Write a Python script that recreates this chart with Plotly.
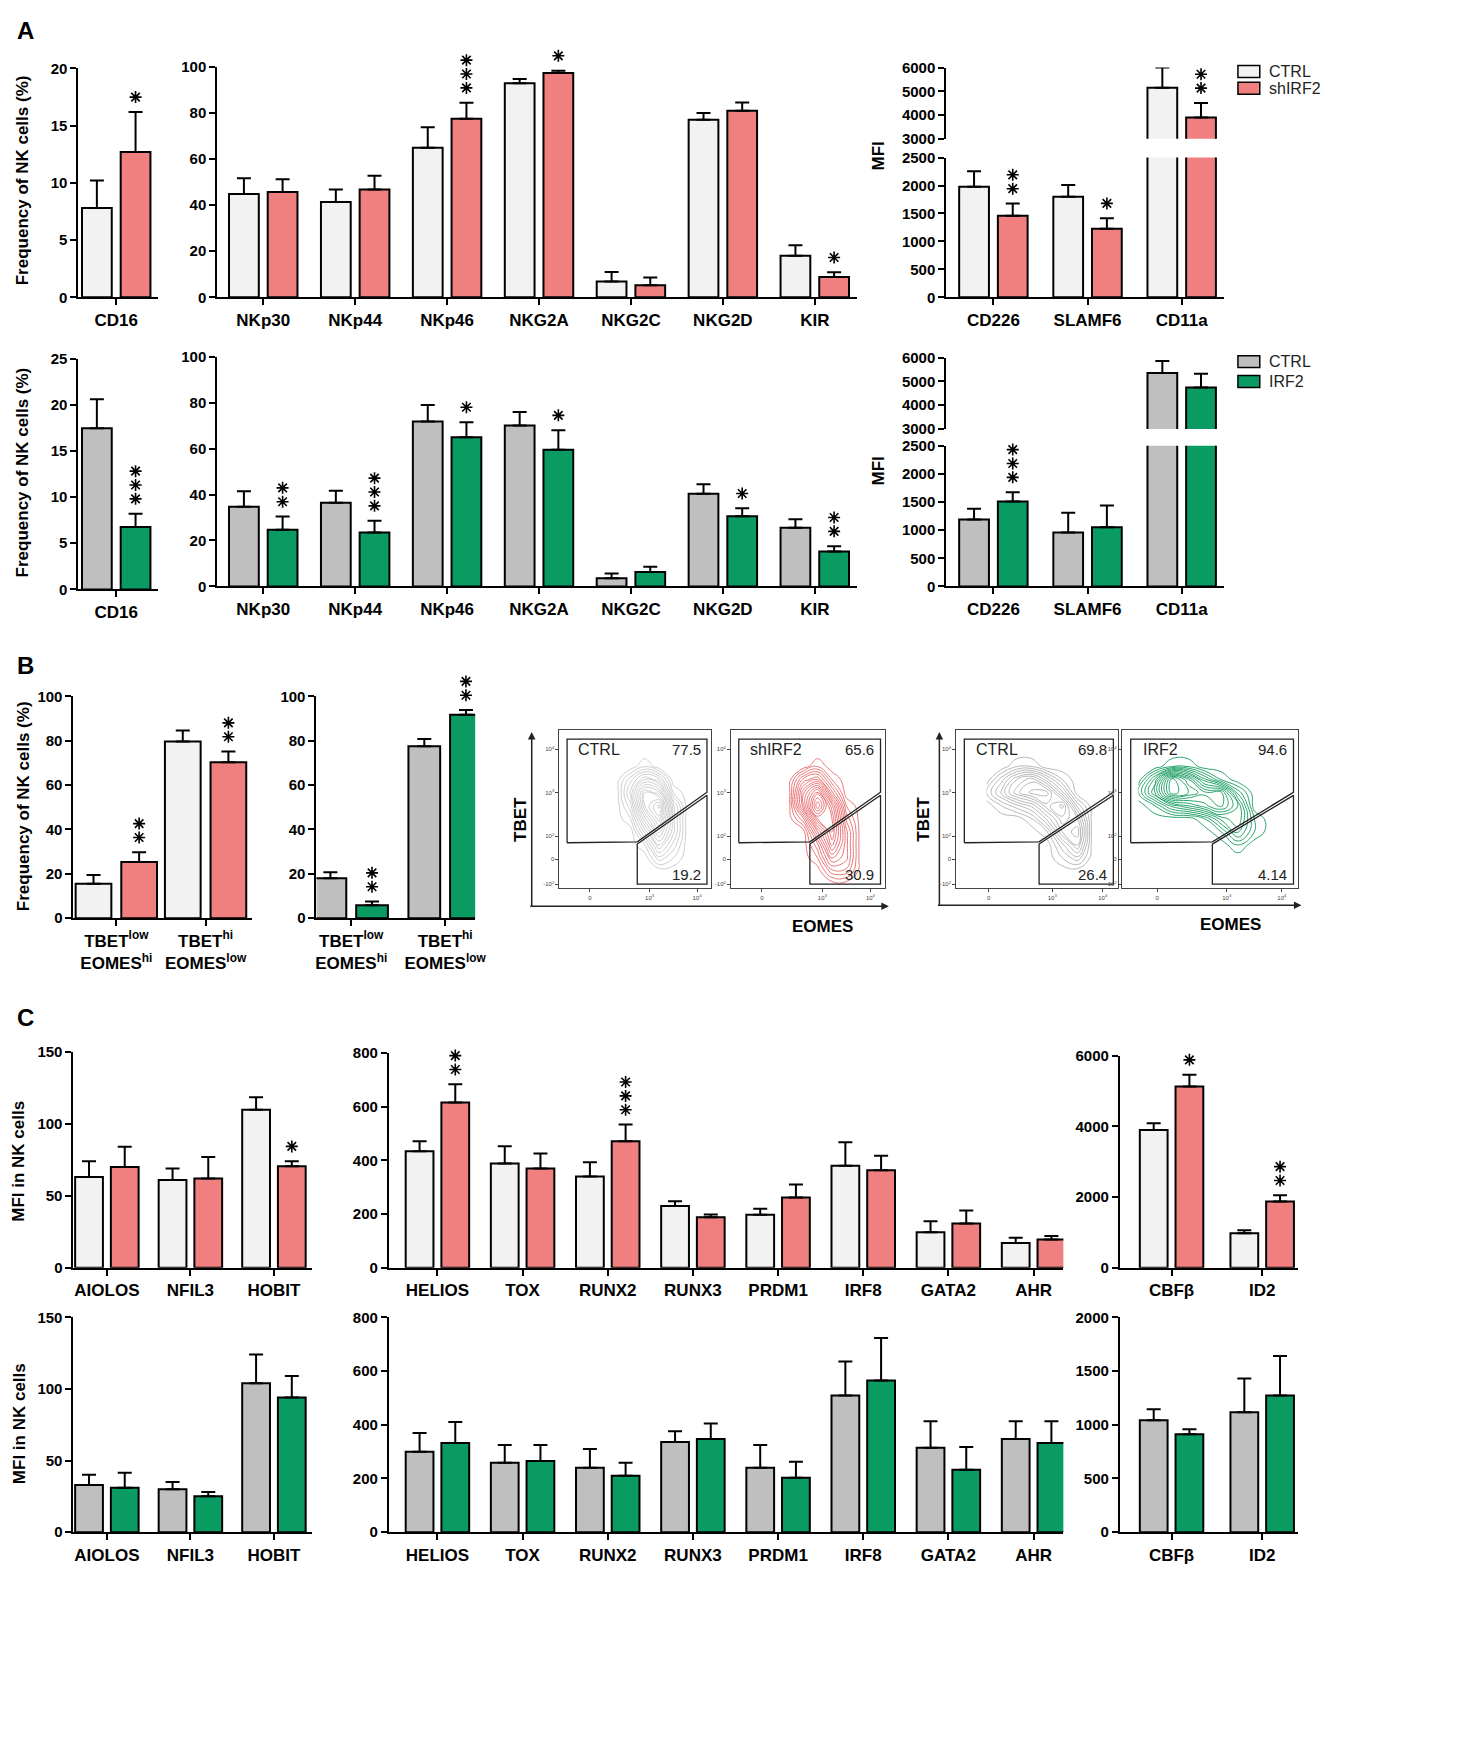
import plotly.graph_objects as go

W, H = 1477, 1755

# ---------------- DATA ----------------
CTRL_LIGHT = "#F2F2F2"
SH_COLOR = "#F08080"
CTRL_GREY = "#BFBFBF"
IRF2_COLOR = "#0A9B63"

# Panel A, shIRF2 row
a1_cd16_cats = ["CD16"]
a1_cd16_ctrl = [7.8]
a1_cd16_ctrl_top = [10.2]
a1_cd16_sh = [12.7]
a1_cd16_sh_top = [16.2]
a1_cd16_stars = ["*"]

rec_cats = ["NKp30", "NKp44", "NKp46", "NKG2A", "NKG2C", "NKG2D", "KIR"]
a1_rec_ctrl = [44.8, 41.3, 64.8, 92.7, 6.8, 76.9, 18.0]
a1_rec_ctrl_top = [51.6, 46.7, 73.7, 94.6, 10.9, 79.9, 22.5]
a1_rec_sh = [45.6, 46.7, 77.4, 97.2, 5.2, 80.8, 8.8]
a1_rec_sh_top = [51.1, 52.7, 84.3, 98.2, 8.6, 84.4, 10.8]
a1_rec_stars = ["", "", "***", "*", "", "", "*"]

mfi_cats = ["CD226", "SLAMF6", "CD11a"]
a1_mfi_ctrl = [1980, 1800, 5150]
a1_mfi_ctrl_top = [2256, 2012, 6000]
a1_mfi_sh = [1459, 1228, 3896]
a1_mfi_sh_top = [1678, 1414, 4508]
a1_mfi_stars = ["**", "*", "**"]

# Panel A, IRF2 row
a2_cd16_ctrl = [17.45]
a2_cd16_ctrl_top = [20.6]
a2_cd16_irf = [6.76]
a2_cd16_irf_top = [8.2]
a2_cd16_stars = ["***"]

a2_rec_ctrl = [34.7, 36.4, 71.8, 70.0, 3.6, 40.3, 25.5]
a2_rec_ctrl_top = [41.4, 41.7, 79.0, 75.9, 5.6, 44.5, 29.2]
a2_rec_irf = [24.7, 23.5, 64.9, 59.5, 6.3, 30.5, 15.2]
a2_rec_irf_top = [30.4, 28.6, 71.5, 68.0, 8.6, 34.0, 17.5]
a2_rec_stars = ["**", "***", "*", "*", "", "*", "**"]

a2_mfi_ctrl = [1192, 960, 5355]
a2_mfi_ctrl_top = [1379, 1308, 5865]
a2_mfi_irf = [1508, 1050, 4740]
a2_mfi_irf_top = [1675, 1437, 5325]
a2_mfi_stars = ["***", "", ""]

# Panel B
b_cats = ["TBET<sup>low</sup><br>EOMES<sup>hi</sup>", "TBET<sup>hi</sup><br>EOMES<sup>low</sup>"]
b1_ctrl = [15.5, 79.7]
b1_ctrl_top = [19.5, 84.6]
b1_sh = [25.3, 70.3]
b1_sh_top = [29.7, 75.1]
b1_stars = ["**", "**"]
b2_ctrl = [18.0, 77.5]
b2_ctrl_top = [20.7, 80.8]
b2_irf = [5.8, 91.7]
b2_irf_top = [7.5, 93.8]
b2_stars = ["**", "**"]

# Flow cytometry plots (gate percentages and approximate density grids)
flow_labels = ["CTRL", "shIRF2", "CTRL", "IRF2"]
flow_hi = ["77.5", "65.6", "69.8", "94.6"]
flow_lo = ["19.2", "30.9", "26.4", "4.14"]
gate_hi_x = [1.26, 1.26, 4.21, 4.21, 2.74, 1.26]
gate_hi_y = [1.85, 4.23, 4.23, 3.01, 1.87, 1.85]
gate_lo_x = [2.74, 2.74, 4.21, 4.21, 2.74]
gate_lo_y = [1.82, 0.90, 0.90, 2.94, 1.82]
flow_gy = [0.9, 1.2, 1.5, 1.8, 2.1, 2.4, 2.7, 3.0, 3.3, 3.6, 3.9]
flow1_gx = [2.0, 2.3, 2.6, 2.9, 3.2, 3.5, 3.8, 4.1]
flow1_z = [
    [0, 0, 0, 0, 0, 0, 0, 0],
    [0, 0, 0, 0, 0, 0, 0, 0],
    [0, 0, 0, 0, 2, 1, 0, 0],
    [0, 0, 0, 1, 4, 2, 0, 0],
    [0, 0, 0, 3, 6, 3, 0, 0],
    [0, 0, 1, 5, 8, 3, 0, 0],
    [0, 0, 2, 7, 9, 3, 0, 0],
    [0, 0, 3, 7, 6, 1, 0, 0],
    [0, 0, 2, 4, 3, 0, 0, 0],
    [0, 0, 0, 1, 0, 0, 0, 0],
    [0, 0, 0, 0, 0, 0, 0, 0],
]
flow2_gx = [2.0, 2.3, 2.6, 2.9, 3.2, 3.5, 3.8, 4.1]
flow2_z = [
    [0, 0, 0, 0, 0, 0, 0, 0],
    [0, 0, 0, 0, 2, 2, 0, 0],
    [0, 0, 0, 1, 4, 3, 0, 0],
    [0, 0, 0, 2, 6, 3, 0, 0],
    [0, 0, 0, 4, 7, 3, 0, 0],
    [0, 0, 2, 7, 7, 2, 0, 0],
    [0, 0, 5, 10, 6, 1, 0, 0],
    [0, 0, 5, 8, 3, 0, 0, 0],
    [0, 0, 3, 4, 1, 0, 0, 0],
    [0, 0, 0, 1, 0, 0, 0, 0],
    [0, 0, 0, 0, 0, 0, 0, 0],
]
flow3_gx = [1.7, 2.0, 2.3, 2.6, 2.9, 3.2, 3.5, 3.8, 4.1]
flow3_z = [
    [0, 0, 0, 0, 0, 0, 0, 0, 0],
    [0, 0, 0, 0, 0, 0, 0, 0, 0],
    [0, 0, 0, 0, 0, 1, 2, 0, 0],
    [0, 0, 0, 0, 0, 2, 4, 0, 0],
    [0, 0, 0, 0, 1, 4, 5, 0, 0],
    [0, 0, 0, 1, 3, 5, 4, 0, 0],
    [0, 1, 2, 3, 5, 6, 2, 0, 0],
    [1, 3, 5, 6, 6, 3, 0, 0, 0],
    [0, 2, 4, 5, 3, 1, 0, 0, 0],
    [0, 0, 1, 1, 0, 0, 0, 0, 0],
    [0, 0, 0, 0, 0, 0, 0, 0, 0],
]
flow4_gx = [1.4, 1.7, 2.0, 2.3, 2.6, 2.9, 3.2, 3.5, 3.8, 4.1]
flow4_z = [
    [0, 0, 0, 0, 0, 0, 0, 0, 0, 0],
    [0, 0, 0, 0, 0, 0, 0, 0, 0, 0],
    [0, 0, 0, 0, 0, 0, 0, 0, 0, 0],
    [0, 0, 0, 0, 0, 0, 1, 0, 0, 0],
    [0, 0, 0, 0, 0, 1, 3, 1, 0, 0],
    [0, 0, 0, 0, 1, 3, 4, 1, 0, 0],
    [0, 1, 3, 4, 5, 6, 4, 0, 0, 0],
    [1, 4, 8, 7, 6, 6, 2, 0, 0, 0],
    [0, 3, 8, 6, 3, 1, 0, 0, 0, 0],
    [0, 0, 1, 1, 0, 0, 0, 0, 0, 0],
    [0, 0, 0, 0, 0, 0, 0, 0, 0, 0],
]

# Panel C
c1_cats = ["AIOLOS", "NFIL3", "HOBIT"]
c2_cats = ["HELIOS", "TOX", "RUNX2", "RUNX3", "PRDM1", "IRF8", "GATA2", "AHR"]
c3_cats = ["CBFβ", "ID2"]
c1r1_ctrl = [63, 61, 109.8]
c1r1_ctrl_top = [74, 69, 118.4]
c1r1_sh = [70, 62, 70.5]
c1r1_sh_top = [84, 77, 74]
c1r1_stars = ["", "", "*"]
c2r1_ctrl = [434, 388, 340, 230, 197, 380, 132, 92]
c2r1_ctrl_top = [471, 452, 393, 248, 220, 467, 173, 112]
c2r1_sh = [615, 370, 471, 188, 262, 363, 165, 105]
c2r1_sh_top = [683, 425, 533, 198, 310, 417, 213, 118]
c2r1_stars = ["**", "", "***", "", "", "", "", ""]
c3r1_ctrl = [3897, 980]
c3r1_ctrl_top = [4090, 1065]
c3r1_sh = [5130, 1878]
c3r1_sh_top = [5466, 2050]
c3r1_stars = ["*", "**"]

c1r2_ctrl = [33, 30, 104]
c1r2_ctrl_top = [40, 35, 124]
c1r2_irf = [31, 25, 94]
c1r2_irf_top = [41.5, 28, 109]
c2r2_ctrl = [299, 258, 240, 336, 240, 509, 314, 347]
c2r2_ctrl_top = [369, 325, 310, 376, 325, 635, 413, 413]
c2r2_irf = [332, 265, 210, 347, 203, 565, 232, 332]
c2r2_irf_top = [410, 325, 258, 405, 262, 723, 317, 413]
c3r2_ctrl = [1041, 1115]
c3r2_ctrl_top = [1143, 1430]
c3r2_irf = [912, 1272]
c3r2_irf_top = [959, 1640]

# ---------------- FIGURE ----------------
FONT = "Liberation Sans, Arial, sans-serif"
fig = go.Figure()
layout = {}
annotations = []
shapes = []
axn = [0]


def dom_x(x0, x1):
    return [x0 / W, x1 / W]


def dom_y(y0, y1):
    return [max(0.0, 1 - y1 / H), min(1.0, 1 - y0 / H)]


def new_axes():
    axn[0] += 1
    n = axn[0]
    s = "" if n == 1 else str(n)
    return "x" + s, "y" + s, "xaxis" + s, "yaxis" + s


def bar_panel(box, cats, ctrl, ctrl_top, trt, trt_top, stars, yr, dtick, xr,
              colors, names, bw_px=30, gap_px=9, upper=None, tickfs=15, catfs=17):
    x0, x1, y0, y1 = box
    idx = list(range(len(cats)))
    ppu = (x1 - x0) / (xr[1] - xr[0])
    bw = bw_px / ppu
    g = gap_px / ppu
    panels = [(y0, y1, yr, dtick, True)]
    if upper is not None:
        panels.append(upper)
    for (py0, py1, pyr, pdt, is_lower) in panels:
        xa, ya, xk, yk = new_axes()
        layout[xk] = dict(domain=dom_x(x0, x1), anchor=ya, range=xr,
                          tickvals=idx, ticktext=cats,
                          showline=is_lower, linewidth=2, linecolor="black",
                          ticks="outside" if is_lower else "", ticklen=6, tickwidth=2,
                          tickcolor="black", showgrid=False, zeroline=False,
                          showticklabels=is_lower,
                          tickfont=dict(family=FONT, size=catfs, color="black", weight="bold"),
                          fixedrange=True)
        layout[yk] = dict(domain=dom_y(py0, py1), anchor=xa, range=pyr, dtick=pdt,
                          showline=True, linewidth=2, linecolor="black",
                          ticks="outside", ticklen=6, tickwidth=2, tickcolor="black",
                          showgrid=False, zeroline=False,
                          tickfont=dict(family=FONT, size=tickfs, color="black", weight="bold"),
                          fixedrange=True)
        for k, (vals, tops, col, nm) in enumerate([(ctrl, ctrl_top, colors[0], names[0]),
                                                    (trt, trt_top, colors[1], names[1])]):
            fig.add_trace(go.Bar(
                x=idx, y=vals, width=bw, offset=(-bw - g / 2) if k == 0 else g / 2,
                xaxis=xa, yaxis=ya, name=nm, showlegend=False,
                marker=dict(color=col, line=dict(color="black", width=2)),
                error_y=dict(type="data", symmetric=False,
                             array=[t - v for t, v in zip(tops, vals)],
                             arrayminus=[0] * len(vals),
                             color="black", thickness=2, width=7),
            ))
        # significance asterisks, stacked above the treatment bar, on an invisible
        # overlay axis that shares the panel scale but extends higher
        ppy = (py1 - py0) / (pyr[1] - pyr[0])
        sx, sy = [], []
        for i, st in enumerate(stars):
            top = trt_top[i]
            if not st or not (pyr[0] <= top <= pyr[1]):
                continue
            for k in range(len(st)):
                sx.append(i + g / 2 + bw / 2)
                sy.append(top + (15 + k * 14) / ppy)
        if sx:
            ext = min(70, py0 - 1)
            sxa, sya, sxk, syk = new_axes()
            layout[sxk] = dict(domain=dom_x(x0, x1), anchor=sya, range=xr, visible=False,
                               fixedrange=True)
            layout[syk] = dict(domain=dom_y(py0 - ext, py1), anchor=sxa,
                               range=[pyr[0], pyr[1] + ext / ppy], visible=False,
                               fixedrange=True)
            fig.add_trace(go.Scatter(
                x=sx, y=sy, mode="markers", xaxis=sxa, yaxis=sya, showlegend=False,
                hoverinfo="skip", cliponaxis=False,
                marker=dict(symbol="asterisk-open", size=10, color="black",
                            line=dict(color="black", width=1.6))))


def flow_panel(box, gx, z, color, label, hi, lo):
    x0, x1, y0, y1 = box
    xa, ya, xk, yk = new_axes()
    layout[xk] = dict(domain=dom_x(x0, x1), anchor=ya, range=[1.1, 4.3],
                      showline=True, mirror=True, linewidth=1, linecolor="#444",
                      ticks="outside", ticklen=3, tickwidth=1, tickcolor="#444",
                      tickvals=[1.74, 3, 4], ticktext=["0", "10<sup>3</sup>", "10<sup>4</sup>"],
                      tickfont=dict(family=FONT, size=6, color="#444"),
                      showgrid=False, zeroline=False, fixedrange=True)
    layout[yk] = dict(domain=dom_y(y0, y1), anchor=xa, range=[0.8, 4.44],
                      showline=True, mirror=True, linewidth=1, linecolor="#444",
                      ticks="outside", ticklen=3, tickwidth=1, tickcolor="#444",
                      tickvals=[0.9, 1.47, 2, 3, 4],
                      ticktext=["-10<sup>2</sup>", "0", "10<sup>2</sup>", "10<sup>3</sup>", "10<sup>4</sup>"],
                      tickfont=dict(family=FONT, size=6, color="#444"),
                      showgrid=False, zeroline=False, fixedrange=True)
    fig.add_trace(go.Contour(
        x=gx, y=flow_gy, z=z, xaxis=xa, yaxis=ya, showscale=False, showlegend=False,
        contours=dict(coloring="lines", start=0.4, end=10, size=0.6),
        colorscale=[[0, color], [1, color]],
        line=dict(width=0.9, smoothing=1.3), hoverinfo="skip"))
    for gxs, gys in [(gate_hi_x, gate_hi_y), (gate_lo_x, gate_lo_y)]:
        fig.add_trace(go.Scatter(x=gxs, y=gys, mode="lines", xaxis=xa, yaxis=ya,
                                 line=dict(color="#222", width=1.3), showlegend=False,
                                 hoverinfo="skip"))
    annotations.append(dict(xref=xa, yref=ya, x=1.45, y=4.0, text=label, showarrow=False,
                            xanchor="left", yanchor="middle",
                            font=dict(family=FONT, size=16, color="#222")))
    annotations.append(dict(xref=xa, yref=ya, x=4.12, y=4.0, text=hi, showarrow=False,
                            xanchor="right", yanchor="middle",
                            font=dict(family=FONT, size=15, color="#222")))
    annotations.append(dict(xref=xa, yref=ya, x=4.12, y=1.12, text=lo, showarrow=False,
                            xanchor="right", yanchor="middle",
                            font=dict(family=FONT, size=15, color="#222")))


# ---- Panel A row 1 (shIRF2)
bar_panel((70, 150, 52, 283), a1_cd16_cats, a1_cd16_ctrl, a1_cd16_ctrl_top, a1_cd16_sh,
          a1_cd16_sh_top, a1_cd16_stars, [0, 20], 5, [-0.5, 0.55],
          (CTRL_LIGHT, SH_COLOR), ("CTRL", "shIRF2"))
bar_panel((210, 855, 50, 283), rec_cats, a1_rec_ctrl, a1_rec_ctrl_top, a1_rec_sh,
          a1_rec_sh_top, a1_rec_stars, [0, 100], 20, [-0.5, 6.46],
          (CTRL_LIGHT, SH_COLOR), ("CTRL", "shIRF2"))
bar_panel((945, 1225, 142, 283), mfi_cats, a1_mfi_ctrl, a1_mfi_ctrl_top, a1_mfi_sh,
          a1_mfi_sh_top, a1_mfi_stars, [0, 2500], 500, [-0.5, 2.45],
          (CTRL_LIGHT, SH_COLOR), ("CTRL", "shIRF2"),
          upper=(51, 123, [3000, 6000], 1000, False))

# ---- Panel A row 2 (IRF2)
bar_panel((70, 150, 345, 578), a1_cd16_cats, a2_cd16_ctrl, a2_cd16_ctrl_top, a2_cd16_irf,
          a2_cd16_irf_top, a2_cd16_stars, [0, 25], 5, [-0.5, 0.55],
          (CTRL_GREY, IRF2_COLOR), ("CTRL", "IRF2"))
bar_panel((210, 855, 343, 575), rec_cats, a2_rec_ctrl, a2_rec_ctrl_top, a2_rec_irf,
          a2_rec_irf_top, a2_rec_stars, [0, 100], 20, [-0.5, 6.46],
          (CTRL_GREY, IRF2_COLOR), ("CTRL", "IRF2"))
bar_panel((945, 1225, 433, 575), mfi_cats, a2_mfi_ctrl, a2_mfi_ctrl_top, a2_mfi_irf,
          a2_mfi_irf_top, a2_mfi_stars, [0, 2500], 500, [-0.5, 2.45],
          (CTRL_GREY, IRF2_COLOR), ("CTRL", "IRF2"),
          upper=(344, 416, [3000, 6000], 1000, False))

# ---- Panel B
bar_panel((65, 245, 686, 910), b_cats, b1_ctrl, b1_ctrl_top, b1_sh, b1_sh_top, b1_stars,
          [0, 100], 20, [-0.48, 1.52], (CTRL_LIGHT, SH_COLOR), ("CTRL", "shIRF2"),
          bw_px=36, gap_px=10)
bar_panel((310, 470, 686, 910), b_cats, b2_ctrl, b2_ctrl_top, b2_irf, b2_irf_top, b2_stars,
          [0, 100], 20, [-0.37, 1.32], (CTRL_GREY, IRF2_COLOR), ("CTRL", "IRF2"),
          bw_px=32, gap_px=10)

flow_panel((555, 708, 720, 880), flow1_gx, flow1_z, "#C8C8C8", flow_labels[0], flow_hi[0], flow_lo[0])
flow_panel((728, 883, 720, 880), flow2_gx, flow2_z, "#E8686A", flow_labels[1], flow_hi[1], flow_lo[1])
flow_panel((955, 1118, 720, 880), flow3_gx, flow3_z, "#B0B0B0", flow_labels[2], flow_hi[2], flow_lo[2])
flow_panel((1122, 1300, 720, 880), flow4_gx, flow4_z, "#139A5E", flow_labels[3], flow_hi[3], flow_lo[3])

# ---- Panel C row 1
bar_panel((65, 305, 1045, 1263), c1_cats, c1r1_ctrl, c1r1_ctrl_top, c1r1_sh, c1r1_sh_top,
          c1r1_stars, [0, 150], 50, [-0.4, 2.45], (CTRL_LIGHT, SH_COLOR), ("CTRL", "shIRF2"),
          bw_px=28, gap_px=8)
bar_panel((383, 1063, 1046, 1263), c2_cats, c2r1_ctrl, c2r1_ctrl_top, c2r1_sh, c2r1_sh_top,
          c2r1_stars, [0, 800], 200, [-0.57, 7.35], (CTRL_LIGHT, SH_COLOR), ("CTRL", "shIRF2"),
          bw_px=28, gap_px=8)
bar_panel((1120, 1300, 1049, 1263), c3_cats, c3r1_ctrl, c3r1_ctrl_top, c3r1_sh, c3r1_sh_top,
          c3r1_stars, [0, 6000], 2000, [-0.57, 1.4], (CTRL_LIGHT, SH_COLOR), ("CTRL", "shIRF2"),
          bw_px=28, gap_px=8)

# ---- Panel C row 2
bar_panel((65, 305, 1313, 1530), c1_cats, c1r2_ctrl, c1r2_ctrl_top, c1r2_irf, c1r2_irf_top,
          ["", "", ""], [0, 150], 50, [-0.4, 2.45], (CTRL_GREY, IRF2_COLOR), ("CTRL", "IRF2"),
          bw_px=28, gap_px=8)
bar_panel((383, 1063, 1313, 1530), c2_cats, c2r2_ctrl, c2r2_ctrl_top, c2r2_irf, c2r2_irf_top,
          [""] * 8, [0, 800], 200, [-0.57, 7.35], (CTRL_GREY, IRF2_COLOR), ("CTRL", "IRF2"),
          bw_px=28, gap_px=8)
bar_panel((1120, 1300, 1313, 1530), c3_cats, c3r2_ctrl, c3r2_ctrl_top, c3r2_irf, c3r2_irf_top,
          ["", ""], [0, 2000], 500, [-0.57, 1.4], (CTRL_GREY, IRF2_COLOR), ("CTRL", "IRF2"),
          bw_px=28, gap_px=8)


# ---- Text labels
def ptext(x, y, text, size=17, angle=0, bold=True, anchor="center", color="black"):
    annotations.append(dict(xref="paper", yref="paper", x=x / W, y=1 - y / H, text=text,
                            showarrow=False, textangle=angle, xanchor=anchor, yanchor="middle",
                            font=dict(family=FONT, size=size, color=color,
                                      weight="bold" if bold else "normal")))


ptext(6, 14, "A", size=24, anchor="left")
ptext(6, 655, "B", size=24, anchor="left")
ptext(6, 1010, "C", size=24, anchor="left")
ptext(14, 165, "Frequency of NK cells (%)", angle=-90)
ptext(14, 460, "Frequency of NK cells (%)", angle=-90)
ptext(14, 797, "Frequency of NK cells (%)", angle=-90)
ptext(877, 140, "MFI", angle=-90)
ptext(877, 458, "MFI", angle=-90)
ptext(10, 1155, "MFI in NK cells", angle=-90)
ptext(10, 1420, "MFI in NK cells", angle=-90)
ptext(515, 810, "TBET", angle=-90)
ptext(820, 918, "EOMES")
ptext(922, 810, "TBET", angle=-90)
ptext(1232, 916, "EOMES")

# ---- legends (swatches + labels)
legend_rows = [(55, "CTRL", CTRL_LIGHT), (72, "shIRF2", SH_COLOR),
               (348, "CTRL", CTRL_GREY), (368, "IRF2", IRF2_COLOR)]
for (ly, lt, lc) in legend_rows:
    shapes.append(dict(type="rect", xref="paper", yref="paper",
                       x0=1239 / W, x1=1261 / W, y0=1 - (ly + 6) / H, y1=1 - (ly - 6) / H,
                       fillcolor=lc, line=dict(color="black", width=1.5)))
    ptext(1268, ly, lt, size=16, bold=False, anchor="left", color="#222")

# flow axis arrows
for (ax_x, ay_top, ay_bot, ax_right) in [(527, 722, 898, 887), (938, 722, 897, 1303)]:
    annotations.append(dict(xref="paper", yref="paper", x=ax_x / W, y=1 - ay_top / H,
                            ax=0, ay=ay_bot - ay_top, axref="pixel", ayref="pixel",
                            showarrow=True, arrowhead=2, arrowsize=1, arrowwidth=1.5,
                            arrowcolor="#222", text=""))
    annotations.append(dict(xref="paper", yref="paper", x=ax_right / W, y=1 - ay_bot / H,
                            ax=-(ax_right - ax_x), ay=0, axref="pixel", ayref="pixel",
                            showarrow=True, arrowhead=2, arrowsize=1, arrowwidth=1.5,
                            arrowcolor="#222", text=""))

layout.update(dict(
    width=W, height=H, margin=dict(l=0, r=0, t=0, b=0),
    paper_bgcolor="white", plot_bgcolor="rgba(0,0,0,0)", barmode="overlay", showlegend=False,
    font=dict(family=FONT, color="black"),
    annotations=annotations, shapes=shapes,
))
fig.update_layout(**layout)
fig.write_html("out.html")
